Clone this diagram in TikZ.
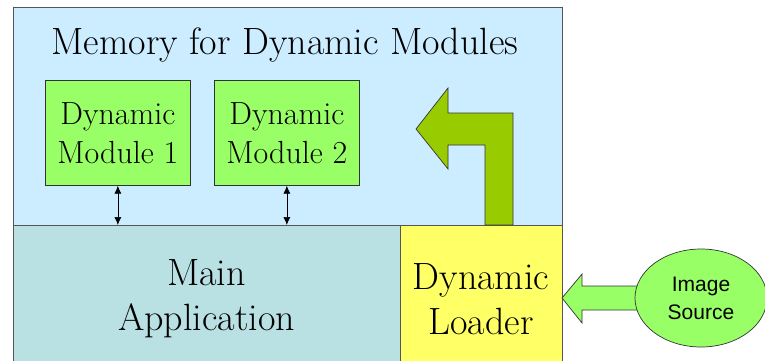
\documentclass[tikz,border=0pt]{standalone}
\usepackage{fontspec}
\newfontfamily\arialfont{Liberation Sans}
\usetikzlibrary{arrows.meta,shapes.geometric}
\definecolor{memblue}{HTML}{CCECFF}
\definecolor{mainblue}{HTML}{B9E0E3}
\definecolor{loadyel}{HTML}{FFFF66}
\definecolor{modgreen}{HTML}{99FF66}
\definecolor{bentgreen}{HTML}{99CC00}
\definecolor{edgegray}{HTML}{555555}
\tikzset{
  area/.style={draw=edgegray, line width=0.9pt, inner sep=0pt, anchor=north west},
  modbox/.style={draw=black!80, line width=0.7pt, fill=modgreen, inner sep=0pt, anchor=north west,
     minimum width=145pt, minimum height=105pt, align=center, font=\fontsize{32}{39}\selectfont},
  bigtext/.style={align=center, font=\fontsize{38}{45}\selectfont},
  link/.style={{Latex[length=8pt,width=7pt]}-{Latex[length=8pt,width=7pt]}, line width=0.7pt},
  shape arrow/.style={draw=black!80, line width=0.7pt, line join=miter},
}
\begin{document}
\begin{tikzpicture}[x=1pt,y=-1pt]
\useasboundingbox (0,0) rectangle (765,361);
\fill[white] (0,0) rectangle (765,361);
% memory region
\node[area, fill=memblue, minimum width=549pt, minimum height=218pt] (mem) at (13,7) {};
\node[font=\fontsize{38}{45}\selectfont] (memlabel) at (285,45) {Memory for Dynamic Modules};
% main application and loader
\node[area, fill=mainblue, minimum width=387pt, minimum height=145pt] (main) at (13,225) {};
\node[area, fill=loadyel, minimum width=162pt, minimum height=145pt] (loader) at (400,225) {};
\node[bigtext] (maintext) at (206.5,299) {Main\\Application};
\node[bigtext] (loadtext) at (481,299) {Dynamic\\Loader};
% modules
\node[modbox] (m1) at (45,80) {Dynamic\\Module 1};
\node[modbox] (m2) at (214,80) {Dynamic\\Module 2};
\coordinate (b1) at (m1.south |- main.north);
\coordinate (b2) at (m2.south |- main.north);
\draw[link] (m1.south) -- (b1);
\draw[link] (m2.south) -- (b2);
% bent arrow from loader into memory
\draw[shape arrow, fill=bentgreen] (416,129) -- (448,88) -- (448,113) -- (513,113) -- (513,225)
  -- (485,225) -- (485,145) -- (448,145) -- (448,169) -- cycle;
% arrow from image source
\draw[shape arrow, fill=modgreen] (562,298) -- (582,274) -- (582,286) -- (650,286) -- (650,310)
  -- (582,310) -- (582,323) -- cycle;
\node[ellipse, draw=black!80, line width=0.7pt, fill=modgreen, minimum width=132pt, minimum height=98pt,
  inner sep=0pt, align=center, font=\arialfont\fontsize{21}{28}\selectfont] (src) at (701,298) {Image\\Source};
\end{tikzpicture}
\end{document}
